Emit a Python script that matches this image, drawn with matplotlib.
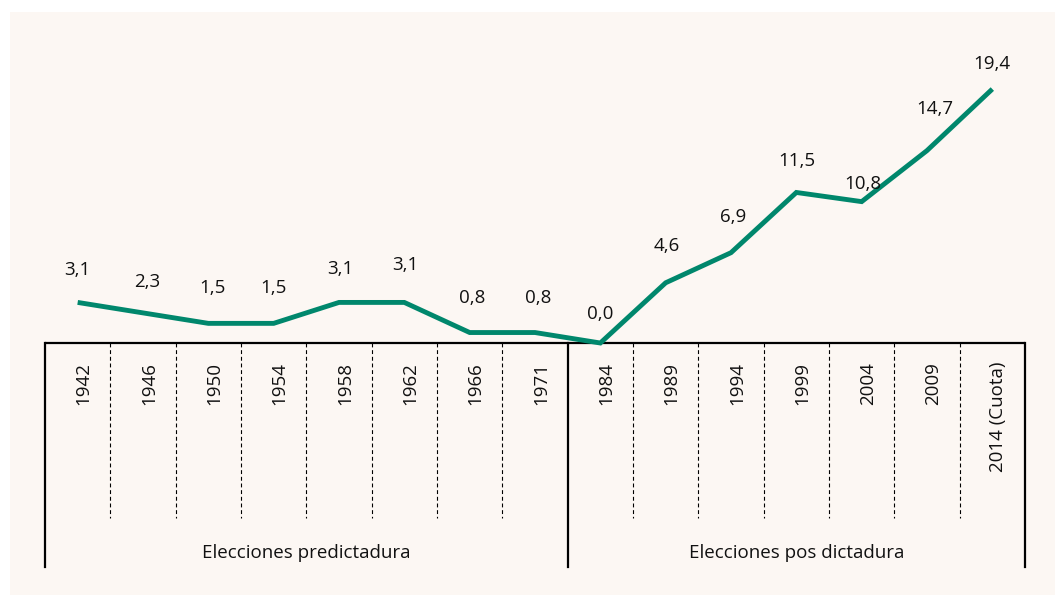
import numpy as np
import matplotlib
matplotlib.use("Agg")
import matplotlib.pyplot as plt

years = ['1942', '1946', '1950', '1954', '1958', '1962', '1966', '1971',
         '1984', '1989', '1994', '1999', '2004', '2009', '2014 (Cuota)']
values = [3.1, 2.3, 1.5, 1.5, 3.1, 3.1, 0.8, 0.8,
          0.0, 4.6, 6.9, 11.5, 10.8, 14.7, 19.4]
groups = ['Elecciones predictadura', 'Elecciones pos dictadura']
group_size = [8, 7]

# label nudges in pixels (dx, dy above the point)
lab_dx = [0, 4, 4, 0, 1, 1, 3, 3, 0, 1, 2, 1, 1, 8, 0]
lab_dy = [32, 31, 35, 35, 33, 37, 35, 35, 29, 37, 36, 31, 18, 42, 25]

plt.rcParams['font.family'] = ['Open Sans', 'DejaVu Sans']
bg = '#fcf7f3'
green = '#00876c'
ink = '#111111'

W, H = 1055, 595
fig = plt.figure(figsize=(W / 100, H / 100), dpi=100)
fig.patch.set_facecolor('white')
# cream panel with white strip top/left
fig.add_artist(plt.Rectangle((10 / W, 0), 1, 1 - 12 / H, transform=fig.transFigure,
                             facecolor=bg, edgecolor='none', zorder=-5))

# axes: x 45..1025 px, y from 567 (bottom) to 50 (top) px
px_per = 13.09
left, right, top, bot = 45, 1025, 50, 567
ax = fig.add_axes([left / W, 1 - bot / H, (right - left) / W, (bot - top) / H])
ax.set_zorder(2)
ax.set_facecolor('none')
n = len(years)
x = np.arange(n)
ax.set_xlim(-0.5, n - 0.5)
ax.set_ylim(-(bot - 343) / px_per, (343 - top) / px_per)
ax.axis('off')

ybot = ax.get_ylim()[0]
ydash = -(518 - 343) / px_per

# frame lines
ax.plot([-0.5, n - 0.5], [0, 0], color='black', lw=1.6, zorder=2, solid_capstyle='butt')
split = group_size[0] - 0.5
for xv in [-0.5, split, n - 0.5]:
    ax.plot([xv, xv], [0, ybot], color='black', lw=1.6, zorder=2, clip_on=False)
for i in range(1, n):
    if i - 0.5 == split:
        continue
    ax.plot([i - 0.5, i - 0.5], [0, ydash], color='black', lw=0.8,
            ls=(0, (3.5, 2.5)), zorder=2)

# data line
ax.plot(x, values, color=green, lw=3.5, zorder=3, solid_capstyle='butt',
        solid_joinstyle='miter', clip_on=False)

# value labels
for i, v in enumerate(values):
    ax.annotate(f'{v:.1f}'.replace('.', ','), (i, v),
                xytext=(lab_dx[i], lab_dy[i]), textcoords='offset pixels',
                ha='center', va='center', fontsize=13.5, color=ink)

# year labels
for i, yl in enumerate(years):
    ax.annotate(yl, (i, 0), xytext=(6, -19), textcoords='offset pixels',
                rotation=90, ha='center', va='top', fontsize=13.5, color=ink)

# group labels
start = 0
for g, sz in zip(groups, group_size):
    cx = start + sz / 2 - 0.5
    ax.annotate(g, (cx, ybot), xytext=(0, 14), textcoords='offset pixels',
                ha='center', va='center', fontsize=13.5, color=ink)
    start += sz

fig.savefig('out.png', dpi=100, facecolor=fig.get_facecolor())
